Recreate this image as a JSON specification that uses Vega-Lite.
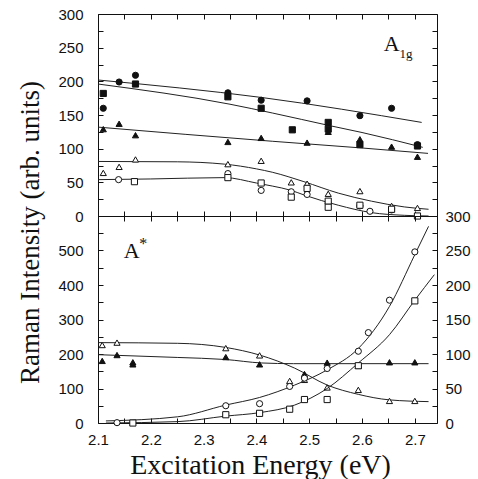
{
  "$schema": "https://vega.github.io/schema/vega-lite/v6.json",
  "padding": {"left": 15, "top": 6, "right": 0, "bottom": 0},
  "spacing": 0,
  "bounds": "flush",
  "config": {
    "view": {"stroke": "#111", "strokeWidth": 1},
    "concat": {"spacing": 0},
    "axis": {"labelFont": "Liberation Sans", "labelFontSize": 15, "labelColor": "#111", "tickColor": "#111", "tickSize": -5, "tickWidth": 1, "domain": false, "grid": false, "labelFlush": false, "labelOverlap": false, "titleFont": "Liberation Serif", "titleFontWeight": "normal", "titleColor": "#111"}
  },
  "datasets": {
    "topPts": [
      {"s":"fc","x":2.110,"y":160},{"s":"fc","x":2.140,"y":199},{"s":"fc","x":2.171,"y":209},{"s":"fc","x":2.346,"y":183},{"s":"fc","x":2.409,"y":172},{"s":"fc","x":2.496,"y":171},{"s":"fc","x":2.596,"y":149},{"s":"fc","x":2.656,"y":160},{"s":"fc","x":2.705,"y":106},
      {"s":"fs","x":2.110,"y":182},{"s":"fs","x":2.171,"y":196},{"s":"fs","x":2.346,"y":177},{"s":"fs","x":2.409,"y":160},{"s":"fs","x":2.468,"y":128},{"s":"fs","x":2.536,"y":139},{"s":"fs","x":2.536,"y":129},{"s":"fs","x":2.596,"y":106},{"s":"fs","x":2.705,"y":104},
      {"s":"ft","x":2.110,"y":129},{"s":"ft","x":2.140,"y":137},{"s":"ft","x":2.171,"y":120},{"s":"ft","x":2.346,"y":110},{"s":"ft","x":2.409,"y":116},{"s":"ft","x":2.496,"y":109},{"s":"ft","x":2.536,"y":125},{"s":"ft","x":2.596,"y":114},{"s":"ft","x":2.656,"y":103},{"s":"ft","x":2.705,"y":88},
      {"s":"ot","x":2.110,"y":64},{"s":"ot","x":2.140,"y":73},{"s":"ot","x":2.171,"y":84},{"s":"ot","x":2.346,"y":77},{"s":"ot","x":2.409,"y":82},{"s":"ot","x":2.466,"y":50},{"s":"ot","x":2.496,"y":48},{"s":"ot","x":2.536,"y":33},{"s":"ot","x":2.596,"y":37},{"s":"ot","x":2.656,"y":15},{"s":"ot","x":2.705,"y":12},
      {"s":"oc","x":2.139,"y":54},{"s":"oc","x":2.346,"y":63},{"s":"oc","x":2.409,"y":38},{"s":"oc","x":2.466,"y":36},{"s":"oc","x":2.496,"y":32},{"s":"oc","x":2.536,"y":19},{"s":"oc","x":2.596,"y":15},{"s":"oc","x":2.615,"y":7},{"s":"oc","x":2.656,"y":9},
      {"s":"os","x":2.169,"y":51},{"s":"os","x":2.346,"y":57},{"s":"os","x":2.409,"y":49},{"s":"os","x":2.466,"y":28},{"s":"os","x":2.496,"y":41},{"s":"os","x":2.536,"y":22},{"s":"os","x":2.536,"y":13},{"s":"os","x":2.596,"y":16},{"s":"os","x":2.656,"y":10},{"s":"os","x":2.705,"y":0}
    ],
    "topFit": [
      {"s":"fc","x":2.1,"y":202},{"s":"fc","x":2.41,"y":176},{"s":"fc","x":2.713,"y":139},
      {"s":"fs","x":2.1,"y":196},{"s":"fs","x":2.35,"y":166},{"s":"fs","x":2.43,"y":153},{"s":"fs","x":2.54,"y":134},{"s":"fs","x":2.6,"y":124},{"s":"fs","x":2.715,"y":102},
      {"s":"ft","x":2.1,"y":132},{"s":"ft","x":2.43,"y":111},{"s":"ft","x":2.6,"y":101},{"s":"ft","x":2.725,"y":93},
      {"s":"ot","x":2.1,"y":81},{"s":"ot","x":2.25,"y":80.5},{"s":"ot","x":2.34,"y":77},{"s":"ot","x":2.40,"y":70},{"s":"ot","x":2.43,"y":65},{"s":"ot","x":2.49,"y":51},{"s":"ot","x":2.555,"y":34},{"s":"ot","x":2.618,"y":22},{"s":"ot","x":2.68,"y":13.5},{"s":"ot","x":2.726,"y":10},
      {"s":"oo","x":2.1,"y":54},{"s":"oo","x":2.2,"y":55},{"s":"oo","x":2.34,"y":57},{"s":"oo","x":2.40,"y":49},{"s":"oo","x":2.43,"y":44.5},{"s":"oo","x":2.466,"y":38},{"s":"oo","x":2.491,"y":31},{"s":"oo","x":2.555,"y":16},{"s":"oo","x":2.618,"y":5},{"s":"oo","x":2.68,"y":1},{"s":"oo","x":2.726,"y":0}
    ],
    "botPtsL": [
      {"s":"ot","x":2.108,"y":226},{"s":"ot","x":2.136,"y":233},{"s":"ot","x":2.342,"y":217},{"s":"ot","x":2.406,"y":196},{"s":"ot","x":2.463,"y":122},{"s":"ot","x":2.491,"y":125},{"s":"ot","x":2.534,"y":103},{"s":"ot","x":2.593,"y":96},{"s":"ot","x":2.652,"y":64},{"s":"ot","x":2.700,"y":64},
      {"s":"ft","x":2.108,"y":180},{"s":"ft","x":2.136,"y":197},{"s":"ft","x":2.166,"y":176},{"s":"ft","x":2.166,"y":170},{"s":"ft","x":2.342,"y":191},{"s":"ft","x":2.406,"y":170},{"s":"ft","x":2.491,"y":142},{"s":"ft","x":2.534,"y":175},{"s":"ft","x":2.593,"y":166},{"s":"ft","x":2.652,"y":176},{"s":"ft","x":2.700,"y":176}
    ],
    "botPtsR": [
      {"s":"oc","x":2.136,"y":0.5},{"s":"oc","x":2.342,"y":25},{"s":"oc","x":2.406,"y":28},{"s":"oc","x":2.463,"y":53},{"s":"oc","x":2.491,"y":65},{"s":"oc","x":2.534,"y":79},{"s":"oc","x":2.593,"y":104},{"s":"oc","x":2.612,"y":131},{"s":"oc","x":2.652,"y":178},{"s":"oc","x":2.700,"y":248},
      {"s":"os","x":2.166,"y":0},{"s":"os","x":2.342,"y":12},{"s":"os","x":2.406,"y":14},{"s":"os","x":2.463,"y":20},{"s":"os","x":2.491,"y":34},{"s":"os","x":2.534,"y":34},{"s":"os","x":2.593,"y":83},{"s":"os","x":2.700,"y":177}
    ],
    "botFitL": [
      {"s":"ot","x":2.101,"y":233},{"s":"ot","x":2.251,"y":231},{"s":"ot","x":2.342,"y":219},{"s":"ot","x":2.406,"y":197},{"s":"ot","x":2.4725,"y":159},{"s":"ot","x":2.534,"y":110},{"s":"ot","x":2.593,"y":83},{"s":"ot","x":2.652,"y":67},{"s":"ot","x":2.726,"y":62},
      {"s":"ft","x":2.101,"y":198},{"s":"ft","x":2.25,"y":190},{"s":"ft","x":2.342,"y":184},{"s":"ft","x":2.41,"y":174},{"s":"ft","x":2.47,"y":172},{"s":"ft","x":2.726,"y":172}
    ],
    "botFitR": [
      {"s":"oc","x":2.115,"y":3},{"s":"oc","x":2.251,"y":9},{"s":"oc","x":2.342,"y":26},{"s":"oc","x":2.406,"y":37},{"s":"oc","x":2.4725,"y":55},{"s":"oc","x":2.534,"y":77},{"s":"oc","x":2.593,"y":108},{"s":"oc","x":2.652,"y":169},{"s":"oc","x":2.70,"y":244},{"s":"oc","x":2.726,"y":285},
      {"s":"os","x":2.115,"y":0},{"s":"os","x":2.251,"y":2},{"s":"os","x":2.342,"y":10},{"s":"os","x":2.406,"y":15},{"s":"os","x":2.4725,"y":26},{"s":"os","x":2.534,"y":50},{"s":"os","x":2.593,"y":87},{"s":"os","x":2.652,"y":128},{"s":"os","x":2.70,"y":178},{"s":"os","x":2.737,"y":215}
    ],
    "labels": [
      {"p":"topMain","t":"A","x":2.641,"y":245},
      {"p":"topSub","t":"1g","x":2.671,"y":235},
      {"p":"botMain","t":"A","x":2.149,"y":479},
      {"p":"botSup","t":"*","x":2.178,"y":505}
    ]
  },
  "vconcat": [
    {
      "width": 339,
      "height": 202,
      "layer": [
        {
          "data": {"name": "topFit"},
          "mark": {"type": "line", "interpolate": "monotone", "color": "#222", "strokeWidth": 1},
          "encoding": {
            "x": {"field": "x", "type": "quantitative", "scale": {"domain": [2.1, 2.742], "nice": false, "zero": false},
                  "axis": {"orient": "bottom", "values": [2.1,2.15,2.2,2.25,2.3,2.35,2.4,2.45,2.5,2.55,2.6,2.65,2.7], "labels": false, "title": null}},
            "y": {"field": "y", "type": "quantitative", "scale": {"domain": [0, 300], "nice": false},
                  "axis": {"orient": "left", "values": [0,25,50,75,100,125,150,175,200,225,250,275,300], "labelExpr": "datum.value % 50 == 0 ? datum.label : ''", "labelPadding": 20,
                           "title": "Raman Intensity (arb. units)", "titleFontSize": 27, "titleX": -60, "titleY": 218, "titleAngle": -90, "titleBaseline": "alphabetic", "titleAlign": "center"}},
            "detail": {"field": "s", "type": "nominal"}
          }
        },
        {
          "data": {"name": "topPts"},
          "mark": {"type": "point", "filled": true, "stroke": "#111", "strokeWidth": 1, "size": 38, "opacity": 1},
          "encoding": {
            "x": {"field": "x", "type": "quantitative", "axis": {"orient": "top", "values": [2.1,2.15,2.2,2.25,2.3,2.35,2.4,2.45,2.5,2.55,2.6,2.65,2.7], "labels": false, "title": null}},
            "y": {"field": "y", "type": "quantitative", "axis": {"orient": "right", "values": [0,25,50,75,100,125,150,175,200,225,250,275,300], "labels": false, "title": null}},
            "shape": {"field": "s", "type": "nominal", "scale": {"domain": ["fc","fs","ft","ot","oc","os"], "range": ["circle","square","triangle-up","triangle-up","circle","square"]}, "legend": null},
            "fill": {"field": "s", "type": "nominal", "scale": {"domain": ["fc","fs","ft","ot","oc","os"], "range": ["#111","#111","#111","#fff","#fff","#fff"]}, "legend": null}
          }
        },
        {
          "data": {"name": "labels"},
          "transform": [{"filter": "datum.p == 'topMain'"}],
          "mark": {"type": "text", "font": "Liberation Serif", "fontSize": 22, "align": "left", "baseline": "alphabetic", "color": "#111"},
          "encoding": {
            "x": {"field": "x", "type": "quantitative", "axis": null},
            "y": {"field": "y", "type": "quantitative", "axis": null},
            "text": {"field": "t"}
          }
        },
        {
          "data": {"name": "labels"},
          "transform": [{"filter": "datum.p == 'topSub'"}],
          "mark": {"type": "text", "font": "Liberation Serif", "fontSize": 13, "align": "left", "baseline": "alphabetic", "color": "#111"},
          "encoding": {
            "x": {"field": "x", "type": "quantitative", "axis": null},
            "y": {"field": "y", "type": "quantitative", "axis": null},
            "text": {"field": "t"}
          }
        }
      ]
    },
    {
      "width": 339,
      "height": 207,
      "resolve": {"scale": {"y": "independent"}},
      "layer": [
        {
          "data": {"name": "botFitL"},
          "mark": {"type": "line", "interpolate": "monotone", "color": "#222", "strokeWidth": 1},
          "encoding": {
            "x": {"field": "x", "type": "quantitative", "scale": {"domain": [2.1, 2.742], "nice": false, "zero": false},
                  "axis": {"orient": "bottom", "values": [2.1,2.15,2.2,2.25,2.3,2.35,2.4,2.45,2.5,2.55,2.6,2.65,2.7], "labelExpr": "round(datum.value*100) % 10 == 0 ? format(datum.value, '.1f') : ''", "labelPadding": 14,
                           "title": "Excitation Energy (eV)", "titleFontSize": 28, "titleX": 162, "titleY": 50, "titleBaseline": "alphabetic", "titleAlign": "center"}},
            "y": {"field": "y", "type": "quantitative", "scale": {"domain": [0, 600], "nice": false},
                  "axis": {"orient": "left", "values": [0,50,100,150,200,250,300,350,400,450,500,550,600], "labelExpr": "datum.value % 100 == 0 && datum.value < 600 ? datum.label : ''", "labelPadding": 20, "title": null}},
            "detail": {"field": "s", "type": "nominal"}
          }
        },
        {
          "data": {"name": "botPtsL"},
          "mark": {"type": "point", "filled": true, "stroke": "#111", "strokeWidth": 1, "size": 38, "opacity": 1},
          "encoding": {
            "x": {"field": "x", "type": "quantitative", "axis": {"orient": "top", "values": [2.1,2.15,2.2,2.25,2.3,2.35,2.4,2.45,2.5,2.55,2.6,2.65,2.7], "labels": false, "title": null}},
            "y": {"field": "y", "type": "quantitative", "scale": {"domain": [0, 600], "nice": false}, "axis": null},
            "shape": {"field": "s", "type": "nominal", "scale": {"domain": ["fc","fs","ft","ot","oc","os"], "range": ["circle","square","triangle-up","triangle-up","circle","square"]}, "legend": null},
            "fill": {"field": "s", "type": "nominal", "scale": {"domain": ["fc","fs","ft","ot","oc","os"], "range": ["#111","#111","#111","#fff","#fff","#fff"]}, "legend": null}
          }
        },
        {
          "data": {"name": "labels"},
          "transform": [{"filter": "datum.p == 'botMain'"}],
          "mark": {"type": "text", "font": "Liberation Serif", "fontSize": 22, "align": "left", "baseline": "alphabetic", "color": "#111"},
          "encoding": {
            "x": {"field": "x", "type": "quantitative", "axis": null},
            "y": {"field": "y", "type": "quantitative", "scale": {"domain": [0, 600], "nice": false}, "axis": null},
            "text": {"field": "t"}
          }
        },
        {
          "data": {"name": "labels"},
          "transform": [{"filter": "datum.p == 'botSup'"}],
          "mark": {"type": "text", "font": "Liberation Serif", "fontSize": 16, "align": "left", "baseline": "alphabetic", "color": "#111"},
          "encoding": {
            "x": {"field": "x", "type": "quantitative", "axis": null},
            "y": {"field": "y", "type": "quantitative", "scale": {"domain": [0, 600], "nice": false}, "axis": null},
            "text": {"field": "t"}
          }
        },
        {
          "data": {"name": "botFitR"},
          "mark": {"type": "line", "interpolate": "monotone", "color": "#222", "strokeWidth": 1},
          "encoding": {
            "x": {"field": "x", "type": "quantitative", "axis": null},
            "y": {"field": "y", "type": "quantitative", "scale": {"domain": [0, 300], "nice": false},
                  "axis": {"orient": "right", "values": [0,25,50,75,100,125,150,175,200,225,250,275,300], "labelExpr": "datum.value % 50 == 0 ? datum.label : ''", "labelPadding": 13, "title": null}},
            "detail": {"field": "s", "type": "nominal"}
          }
        },
        {
          "data": {"name": "botPtsR"},
          "mark": {"type": "point", "filled": true, "stroke": "#111", "strokeWidth": 1, "size": 38, "opacity": 1},
          "encoding": {
            "x": {"field": "x", "type": "quantitative", "axis": null},
            "y": {"field": "y", "type": "quantitative", "scale": {"domain": [0, 300], "nice": false}, "axis": null},
            "shape": {"field": "s", "type": "nominal", "scale": {"domain": ["fc","fs","ft","ot","oc","os"], "range": ["circle","square","triangle-up","triangle-up","circle","square"]}, "legend": null},
            "fill": {"field": "s", "type": "nominal", "scale": {"domain": ["fc","fs","ft","ot","oc","os"], "range": ["#111","#111","#111","#fff","#fff","#fff"]}, "legend": null}
          }
        }
      ]
    }
  ]
}
